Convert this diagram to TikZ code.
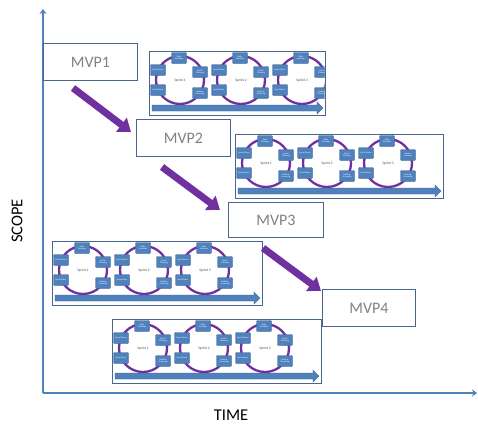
\documentclass[tikz,border=0pt]{standalone}
\usepackage{fontspec}
\setmainfont{Carlito}
\usetikzlibrary{arrows.meta}
\definecolor{axisblue}{RGB}{79,129,189}
\definecolor{frameblue}{RGB}{72,102,145}
\definecolor{boxblue}{RGB}{79,129,189}
\definecolor{boxedge}{RGB}{56,93,138}
\definecolor{ringpurple}{RGB}{112,48,160}
\definecolor{mvptext}{RGB}{135,128,124}
\tikzset{
  axis/.style={draw=axisblue, line width=1.5pt, -{Stealth[length=5pt,width=7pt]}},
  mvpbox/.style={draw=frameblue, line width=0.9pt, fill=white, minimum width=94pt, minimum height=37pt, inner sep=0pt, text=mvptext, font=\fontsize{16}{16}\selectfont},
  panelframe/.style={draw=frameblue, line width=1pt, fill=white, inner sep=0pt},
  sprintring/.style={draw=ringpurple, line width=2.3pt},
  sbox/.style={draw=boxedge, line width=0.4pt, fill=boxblue, rounded corners=0.8pt, minimum width=15pt, minimum height=11pt, inner sep=0pt, text=white, align=center, font=\fontsize{2.2}{2.4}\selectfont},
  slabel/.style={text=black!70, font=\fontsize{3.6}{3.6}\selectfont, inner sep=0pt},
  bigarrow/.style={draw=ringpurple, line width=7pt, -{Triangle[length=12pt,width=17pt]}},
  axislabel/.style={font=\fontsize{16.5}{16.5}\selectfont, text=black, inner sep=0pt}
}
\newcommand\sprintpanel[4]{%
  \begin{scope}[shift={(#1,#2)}]
    \node[panelframe, minimum width=#3pt, minimum height=64pt, anchor=north west] (#4) at (0,0) {};
    \begin{scope}
      \clip (0.5,0.5) rectangle (#3-0.5,63.5);
      \foreach \i/\n in {0/1,1/2,2/3}{%
        \begin{scope}[xshift=\i*61pt]
          \draw[sprintring] (31,29) circle[radius=24pt];
          \node[sbox] (#4-ds\n) at (30,7) {Daily\\Standups};
          \node[sbox] (#4-sd\n) at (9,19) {Sprint Demo};
          \node[sbox] (#4-sp\n) at (51,21) {Sprint\\Planning};
          \node[sbox] (#4-sr\n) at (9,39) {Sprint Retro};
          \node[sbox] (#4-bg\n) at (51,42) {Backlog\\Grooming};
          \node[slabel] (#4-lab\n) at (31,30) {Sprint \n};
        \end{scope}
      }
      \fill[boxblue, draw=boxedge, line width=0.3pt] (3,54) -- (#3-8,54) -- (#3-8,51) -- (#3-2,57) -- (#3-8,63) -- (#3-8,60) -- (3,60) -- cycle;
    \end{scope}
  \end{scope}}
\begin{document}
\begin{tikzpicture}[x=1pt,y=-1pt]
  \useasboundingbox (0,0) rectangle (478,423);
  % axes
  \coordinate (origin) at (43,393);
  \coordinate (ytop) at (43,9);
  \coordinate (xend) at (477,393);
  \draw[axis] (origin) -- (ytop);
  \draw[axis] (origin) -- (xend);
  \node[axislabel, rotate=90] (scope) at (17,221) {SCOPE};
  \node[axislabel, anchor=base] (time) at (231,420) {TIME};
  % sprint panels
  \sprintpanel{149}{51}{176}{pa}
  \sprintpanel{235}{134}{208}{pb}
  \sprintpanel{52}{241}{210}{pc}
  \sprintpanel{112}{319}{209}{pd}
  % MVP boxes
  \node[mvpbox, anchor=north west] (mvp1) at (43,43) {MVP1};
  \node[mvpbox, anchor=north west] (mvp2) at (136,119) {MVP2};
  \node[mvpbox, anchor=north west, minimum width=95pt, minimum height=35pt] (mvp3) at (228,202) {MVP3};
  \node[mvpbox, anchor=north west, minimum width=93pt] (mvp4) at (322,289) {MVP4};
  % purple arrows
  \coordinate (a1s) at (73,88);
  \coordinate (a1e) at (131,132);
  \coordinate (a2s) at (162,167);
  \coordinate (a2e) at (220,210);
  \coordinate (a3s) at (263,248);
  \coordinate (a3e) at (321,291);
  \draw[bigarrow] (a1s) -- (a1e);
  \draw[bigarrow] (a2s) -- (a2e);
  \draw[bigarrow] (a3s) -- (a3e);
\end{tikzpicture}
\end{document}
